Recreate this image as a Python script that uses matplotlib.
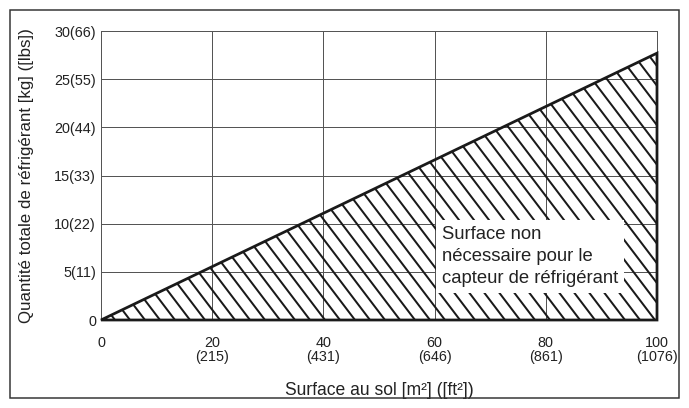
import matplotlib
matplotlib.use("Agg")
import matplotlib.pyplot as plt
import numpy as np
from matplotlib.patches import Rectangle, Polygon
from matplotlib.collections import LineCollection

# surface (m2) vs total refrigerant charge (kg)
surface_m2 = [0, 20, 40, 60, 80, 100]
charge_kg = [0, 5.54, 11.08, 16.62, 22.16, 27.7]

x_ticks = [0, 20, 40, 60, 80, 100]
x_tick_labels = ["0", "20\n(215)", "40\n(431)", "60\n(646)", "80\n(861)", "100\n(1076)"]
y_ticks = [0, 5, 10, 15, 20, 25, 30]
y_tick_labels = ["0", "5(11)", "10(22)", "15(33)", "20(44)", "25(55)", "30(66)"]

plt.rcParams["font.family"] = ["Liberation Sans", "DejaVu Sans"]

DPI = 90
W, H = 689, 408
AX_W, AX_H = 556, 289
fig = plt.figure(figsize=(W / DPI, H / DPI), dpi=DPI)
ax = fig.add_axes([101 / W, 88 / H, AX_W / W, AX_H / H])

# outer frame
fig.add_artist(Rectangle((10 / W, 10 / H), 669 / W, 388 / H,
                         transform=fig.transFigure, fill=False,
                         edgecolor="#333333", linewidth=1.2))

ax.set_xlim(0, 100)
ax.set_ylim(0, 30)
ax.set_xticks(x_ticks)
ax.set_xticklabels(x_tick_labels, fontsize=11.5, color="#222222",
                   linespacing=1.0)
ax.set_yticks(y_ticks)
ax.set_yticklabels(y_tick_labels, fontsize=11.5, color="#222222")
ax.tick_params(axis="y", length=0, pad=4)
ax.tick_params(axis="x", length=0, pad=13)
ax.grid(True, color="#555555", linewidth=0.8)
ax.set_axisbelow(True)
for s in ax.spines.values():
    s.set_color("#555555")
    s.set_linewidth(0.8)

# region below the line
xs = surface_m2 + [surface_m2[-1]]
ys = charge_kg + [0]
region = Polygon(np.column_stack([xs, ys]), closed=True, facecolor="none",
                 edgecolor="none", transform=ax.transData)
ax.add_patch(region)

# hatching: ~15 px spacing, slightly steeper than 45 deg
spacing, lean = 15, 0.76
segs = []
for c in np.arange(-AX_W, 2 * AX_W, spacing):
    segs.append([(c / AX_W, 0), ((c - lean * AX_H) / AX_W, 1)])
hatch = LineCollection(segs, colors="#1a1a1a", linewidths=1.6,
                       transform=ax.transAxes, zorder=2)
hatch.set_clip_path(region)
ax.add_collection(hatch, autolim=False)

ax.fill(xs, ys, facecolor="none", edgecolor="#1a1a1a", linewidth=2.2,
        zorder=3, clip_on=False)

ax.text(61.3, 6.6, "Surface non\nnécessaire pour le\ncapteur de réfrigérant",
        fontsize=14.8, color="#222222", ha="left", va="center", linespacing=1.38,
        zorder=4, bbox=dict(facecolor="white", edgecolor="none", pad=5))

ax.set_xlabel("Surface au sol [m²] ([ft²])", fontsize=14, color="#222222",
              labelpad=14)
ax.set_ylabel("Quantité totale de réfrigérant [kg] ([lbs])", fontsize=13.5,
              color="#222222", labelpad=16)

fig.savefig("out.png", dpi=DPI)
